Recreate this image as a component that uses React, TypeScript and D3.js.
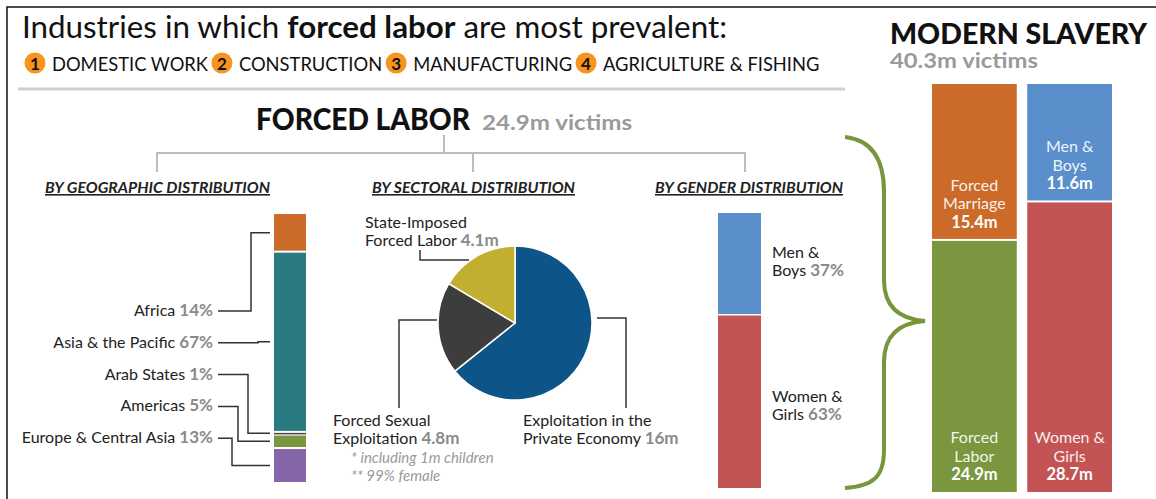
import { useEffect, useRef } from "react";
import * as d3 from "d3";

// industries (ranked)
const industries = ["DOMESTIC WORK", "CONSTRUCTION", "MANUFACTURING", "AGRICULTURE & FISHING"];

// forced labor by region (%)
const geoRegions = ["Africa", "Asia & the Pacific", "Arab States", "Americas", "Europe & Central Asia"];
const geoShares = [14, 67, 1, 5, 13];
const geoColors = ["#cc6a29", "#2a7a82", "#454545", "#7a963e", "#8566a8"];
const geoElbows = [251, 258, 248, 238, 232];

// forced labor by sector (millions)
const sectorNames = [["Exploitation in the", "Private Economy"], ["Forced Sexual", "Exploitation"], ["State-Imposed", "Forced Labor"]];
const sectorValues = [16, 4.8, 4.1];
const sectorLabels = ["16m", "4.8m", "4.1m"];
const sectorColors = ["#0d5488", "#3d3d3d", "#c2ae30"];

// forced labor by gender (%)
const genderNames = [["Men &", "Boys"], ["Women &", "Girls"]];
const genderShares = [37, 63];
const genderColors = ["#5b8fcc", "#c45454"];

// modern slavery totals (millions), bottom segment first
const slaveryTypes = [["Forced", "Labor"], ["Forced", "Marriage"]];
const slaveryTypeValues = [24.9, 15.4];
const slaveryTypeColors = ["#7a963e", "#cc6a29"];
const slaveryGender = [["Women &", "Girls"], ["Men &", "Boys"]];
const slaveryGenderValues = [28.7, 11.6];
const slaveryGenderColors = ["#c45454", "#5b8fcc"];

const SANS = "Lato, 'Open Sans', sans-serif";
const GREY = "#8a8a8a";

const cumulate = (vals: number[]) => {
  let acc = 0;
  return vals.map((v) => {
    const start = acc;
    acc += v;
    return [start, acc];
  });
};

export default function App() {
  const rowRef = useRef<SVGGElement>(null);

  // industry row: number badges followed by names, laid out by measured width
  useEffect(() => {
    const g = d3.select(rowRef.current);
    g.selectAll("*").remove();
    let x = 25;
    industries.forEach((name, i) => {
      g.append("circle").attr("cx", x + 10).attr("cy", 63).attr("r", 10.5).attr("fill", "#f7941d");
      g.append("text")
        .attr("x", x + 10).attr("y", 69.5).attr("text-anchor", "middle")
        .attr("font-size", 17).attr("font-weight", 700).attr("fill", "#111")
        .text(i + 1);
      const t = g.append("text")
        .attr("x", x + 27).attr("y", 71).attr("font-size", 19).attr("fill", "#111")
        .text(name);
      const w = (t.node() as SVGTextElement).getComputedTextLength() * 0.965;
      t.attr("textLength", w).attr("lengthAdjust", "spacingAndGlyphs");
      x = x + 27 + w + 4;
    });
  }, []);

  // geographic bar
  const geoY = d3.scaleLinear().domain([0, 100]).range([214, 483]);
  const geoSegs = cumulate(geoShares);

  // sector pie
  const pieGen = d3.pie<number>().sort(null).value((d) => d);
  const arcGen = d3.arc<d3.PieArcDatum<number>>().innerRadius(0).outerRadius(77);
  const arcs = pieGen(sectorValues);

  // gender bar
  const genY = d3.scaleLinear().domain([0, 100]).range([213, 488]);
  const genSegs = cumulate(genderShares);

  // modern slavery columns
  const colX = d3.scaleBand<string>().domain(["type", "gender"]).range([932, 1112]).paddingInner(0.11);
  const slY = d3.scaleLinear().domain([0, 40.3]).range([492, 84]);
  const columns = [
    { key: "type", names: slaveryTypes, vals: slaveryTypeValues, colors: slaveryTypeColors },
    { key: "gender", names: slaveryGender, vals: slaveryGenderValues, colors: slaveryGenderColors },
  ];

  const headStyle = { textDecoration: "underline" };

  return (
    <svg width={1156} height={499} style={{ position: "absolute", left: 0, top: 0, background: "#fff" }} fontFamily={SANS}>
      <path d="M7,499 V7 H1156" fill="none" stroke="#111" strokeWidth={1.5} />

      {/* title */}
      <text x={22} y={38} fontSize={31} fill="#111" textLength={705} lengthAdjust="spacingAndGlyphs">
        {"Industries in which "}<tspan fontWeight={700}>forced labor</tspan>{" are most prevalent:"}
      </text>
      <g ref={rowRef} />
      <line x1={18} x2={845} y1={89} y2={89} stroke="#cfcfcf" strokeWidth={3} />

      {/* forced labor header and tree */}
      <text x={256} y={130} fontSize={30} fontWeight={900} fill="#111" textLength={214} lengthAdjust="spacingAndGlyphs">FORCED LABOR</text>
      <text x={482} y={130} fontSize={21} fontWeight={700} fill="#9a9a9a" textLength={150} lengthAdjust="spacingAndGlyphs">24.9m victims</text>
      <path d="M444,135 V153 M157,172 V153 H745 V172 M473,153 V172" fill="none" stroke="#bdbdbd" strokeWidth={2} />

      <text x={45} y={193} fontSize={16} fontWeight={700} fontStyle="italic" fill="#222" style={headStyle} textLength={225} lengthAdjust="spacingAndGlyphs">BY GEOGRAPHIC DISTRIBUTION</text>
      <text x={372} y={193} fontSize={16} fontWeight={700} fontStyle="italic" fill="#222" style={headStyle} textLength={203} lengthAdjust="spacingAndGlyphs">BY SECTORAL DISTRIBUTION</text>
      <text x={655} y={193} fontSize={16} fontWeight={700} fontStyle="italic" fill="#222" style={headStyle} textLength={188} lengthAdjust="spacingAndGlyphs">BY GENDER DISTRIBUTION</text>

      {/* geographic distribution */}
      {geoSegs.map(([a, b], i) => (
        <rect key={"g" + i} x={274} width={32} y={geoY(a) + (i > 0 ? 1 : 0)} height={Math.max(1.5, geoY(b) - geoY(a) - (i > 0 ? 2 : 1))} fill={geoColors[i]} />
      ))}
      {geoRegions.map((name, i) => {
        const ly = 316 + i * 31.8;
        const [a, b] = geoSegs[i];
        const ty = geoY((a + b) / 2);
        return (
          <g key={"gl" + i}>
            <text x={213} y={ly} textAnchor="end" fontSize={16} fill="#222">
              {name + " "}<tspan fontWeight={700} fill={GREY} fontSize={17}>{geoShares[i] + "%"}</tspan>
            </text>
            <path d={`M218,${ly - 5} H${geoElbows[i]} V${ty} H270`} fill="none" stroke="#333" strokeWidth={1.5} />
          </g>
        );
      })}

      {/* sectoral distribution */}
      <g transform="translate(515,323)">
        {arcs.map((d, i) => (
          <path key={"p" + i} d={arcGen(d) || ""} fill={sectorColors[i]} stroke="#fff" strokeWidth={1.5} />
        ))}
      </g>
      <path d="M420,250 V260 H469 M437,320 H399 V408 M597,318 H626 V408" fill="none" stroke="#333" strokeWidth={1.5} />
      <text x={365} y={228} fontSize={16} fill="#222">{sectorNames[2][0]}</text>
      <text x={365} y={246} fontSize={16} fill="#222">{sectorNames[2][1] + " "}<tspan fontWeight={700} fill={GREY} fontSize={17}>{sectorLabels[2]}</tspan></text>
      <text x={333} y={426} fontSize={16} fill="#222">{sectorNames[1][0]}</text>
      <text x={333} y={444} fontSize={16} fill="#222">{sectorNames[1][1] + " "}<tspan fontWeight={700} fill={GREY} fontSize={17}>{sectorLabels[1]}</tspan></text>
      <text x={351} y={463} fontSize={15} fontStyle="italic" fill="#9a9a9a">* including 1m children</text>
      <text x={351} y={481} fontSize={15} fontStyle="italic" fill="#9a9a9a">** 99% female</text>
      <text x={523} y={426} fontSize={16} fill="#222">{sectorNames[0][0]}</text>
      <text x={523} y={444} fontSize={16} fill="#222">{sectorNames[0][1] + " "}<tspan fontWeight={700} fill={GREY} fontSize={17}>{sectorLabels[0]}</tspan></text>

      {/* gender distribution */}
      {genSegs.map(([a, b], i) => {
        const mid = genY((a + b) / 2);
        return (
          <g key={"gn" + i}>
            <rect x={718} width={43} y={genY(a) + (i > 0 ? 0.75 : 0)} height={genY(b) - genY(a) - 0.75} fill={genderColors[i]} />
            <text x={772} y={mid - 6 + i * 7} fontSize={16} fill="#222">{genderNames[i][0]}</text>
            <text x={772} y={mid + 12 + i * 7} fontSize={16} fill="#222">{genderNames[i][1] + " "}<tspan fontWeight={700} fill={GREY} fontSize={17}>{genderShares[i] + "%"}</tspan></text>
          </g>
        );
      })}

      {/* brace */}
      <path d="M845,137 C872,140 884,160 884,192 L884,280 C884,306 898,319 925,321 C898,323 884,336 884,362 L884,450 C884,478 872,486 845,488" fill="none" stroke="#78963c" strokeWidth={4} />

      {/* modern slavery */}
      <text x={890} y={44} fontSize={29} fontWeight={900} fill="#111" textLength={257} lengthAdjust="spacingAndGlyphs">MODERN SLAVERY</text>
      <text x={890} y={68} fontSize={21} fontWeight={700} fill="#9a9a9a" textLength={148} lengthAdjust="spacingAndGlyphs">40.3m victims</text>
      {columns.map((col) => {
        const x0 = colX(col.key) || 0;
        const bw = colX.bandwidth();
        const segs = cumulate(col.vals);
        return (
          <g key={col.key}>
            {segs.map(([a, b], i) => {
              const yTop = slY(b);
              const yBot = slY(a);
              const cx = x0 + bw / 2;
              return (
                <g key={i}>
                  <rect x={x0} width={bw} y={yTop + (i < segs.length - 1 ? 1 : 0)} height={yBot - yTop - (i < segs.length - 1 ? 1 : 0) - (i > 0 ? 1 : 0)} fill={col.colors[i]} />
                  <text x={cx} y={yBot - 49} textAnchor="middle" fontSize={16} fill="#fff" fillOpacity={0.92}>{col.names[i][0]}</text>
                  <text x={cx} y={yBot - 30.5} textAnchor="middle" fontSize={16} fill="#fff" fillOpacity={0.92}>{col.names[i][1]}</text>
                  <text x={cx} y={yBot - 12} textAnchor="middle" fontSize={16.5} fontWeight={700} fill="#fff">{col.vals[i] + "m"}</text>
                </g>
              );
            })}
          </g>
        );
      })}
    </svg>
  );
}
